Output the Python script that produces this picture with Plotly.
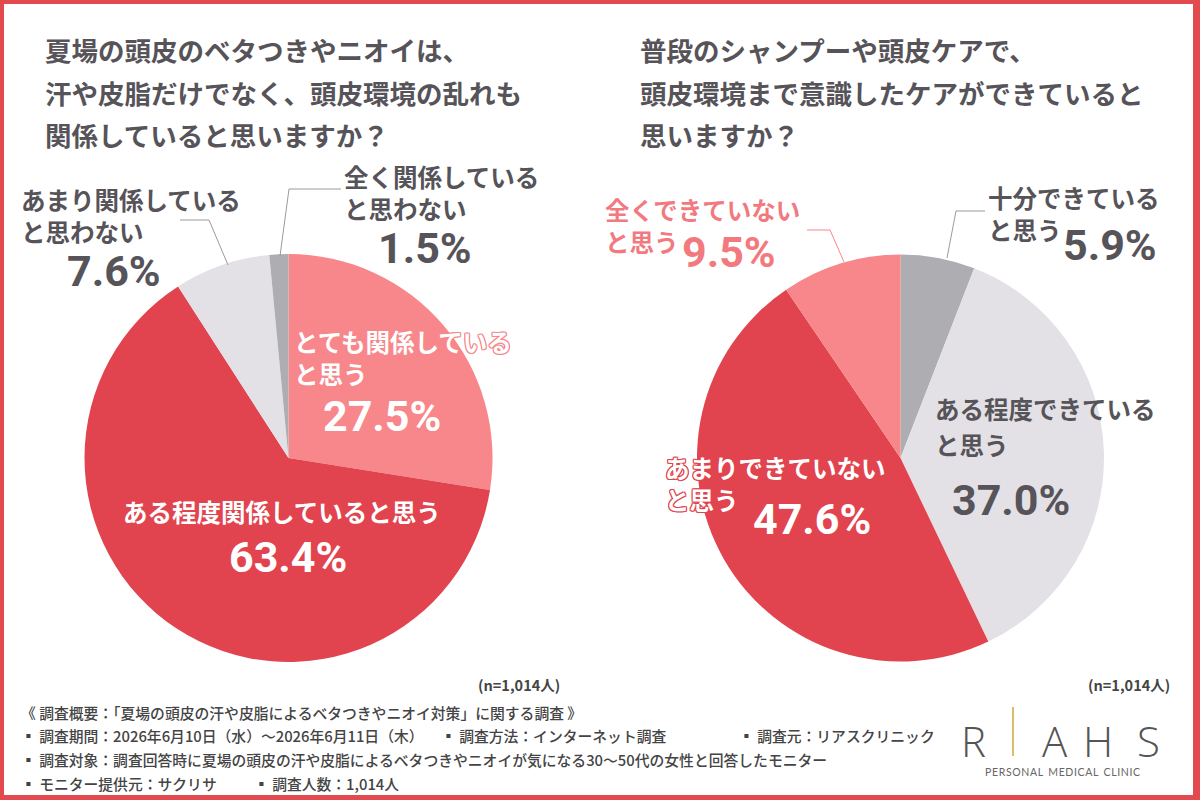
import plotly.graph_objects as go

W, H = 1200, 800

# ---------------- data ----------------
left_labels = ["とても関係していると思う", "ある程度関係していると思う", "あまり関係していると思わない", "全く関係していると思わない"]
left_values = [27.5, 63.4, 7.6, 1.5]
right_labels = ["十分できていると思う", "ある程度できていると思う", "あまりできていないと思う", "全くできていないと思う"]
right_values = [5.9, 37.0, 47.6, 9.5]

left_title = ["夏場の頭皮のベタつきやニオイは、", "汗や皮脂だけでなく、頭皮環境の乱れも", "関係していると思いますか？"]
right_title = ["普段のシャンプーや頭皮ケアで、", "頭皮環境まで意識したケアができていると", "思いますか？"]
n_label = "(n=1,014人)"

footer = [
    [(20, "《 調査概要：「夏場の頭皮の汗や皮脂によるベタつきやニオイ対策」に関する調査 》")],
    [(20, "▪ 調査期間：2026年6月10日（水）～2026年6月11日（木）"), (440, "▪ 調査方法：インターネット調査"), (738, "▪ 調査元：リアスクリニック")],
    [(20, "▪ 調査対象：調査回答時に夏場の頭皮の汗や皮脂によるベタつきやニオイが気になる30～50代の女性と回答したモニター")],
    [(20, "▪ モニター提供元：サクリサ"), (253, "▪ 調査人数：1,014人")],
]

# ---------------- styles ----------------
SALMON = "#F7878A"
RED = "#E1444E"
LIGHT = "#E3E1E5"
GRAY = "#ADADB2"
TXT = "#565359"
SALMON_TXT = "#F27A7F"
BORDER = "#E34A50"
JP = "Noto Sans CJK JP"
NUM = "Roboto, Noto Sans CJK JP"

left_colors = [SALMON, RED, LIGHT, GRAY]
right_colors = [GRAY, LIGHT, RED, SALMON]


def px(x):
    return x / W


def py(y):
    return 1 - y / H


fig = go.Figure()
fig.add_trace(go.Pie(
    labels=left_labels, values=left_values, sort=False, direction="clockwise", rotation=0,
    marker=dict(colors=left_colors, line=dict(color="white", width=0)),
    textinfo="none", hoverinfo="label+percent", showlegend=False,
    domain=dict(x=[px(84), px(493)], y=[py(662), py(254)]),
))
fig.add_trace(go.Pie(
    labels=right_labels, values=right_values, sort=False, direction="clockwise", rotation=0,
    marker=dict(colors=right_colors, line=dict(color="white", width=0)),
    textinfo="none", hoverinfo="label+percent", showlegend=False,
    domain=dict(x=[px(697), px(1104)], y=[py(662), py(254)]),
))

ann = []


def text(x, y, s, size, color=TXT, anchor="left", family=JP, weight=700, shadow=None):
    f = dict(family=family, size=size, color=color, weight=weight)
    if shadow:
        f["shadow"] = shadow
    ann.append(dict(x=px(x), y=py(y), xref="paper", yref="paper", text=s, showarrow=False,
                    xanchor=anchor, yanchor="middle", align=anchor if anchor != "center" else "center",
                    borderpad=0, font=f))


def outline(c):
    return f"-1px -1px 0 {c}, 1px -1px 0 {c}, -1px 1px 0 {c}, 1px 1px 0 {c}, 0 1px 0 {c}, 0 -1px 0 {c}, 1px 0 0 {c}, -1px 0 0 {c}"


def pct(v):
    return f"{v:.1f}%"


TS = 26.5   # title size
LS = 24.5   # label size
PS = 43     # percentage size

# titles
for i, line in enumerate(left_title):
    text(44, 49 + i * 43, line, TS)
for i, line in enumerate(right_title):
    text(639, 49 + i * 43, line, TS)

# left pie labels
text(293, 357, "とても関係している<br>と思う", LS, "white", shadow=outline(SALMON))
text(382, 416, pct(left_values[0]), PS, "white", "center", NUM)
text(282, 511, "ある程度関係していると思う", LS, "white", "center")
text(288, 557, pct(left_values[1]), PS, "white", "center", NUM)
text(20, 215, "あまり関係している<br>と思わない", LS)
text(114, 271, pct(left_values[2]), PS, TXT, "center", NUM)
text(343, 193, "全く関係している<br>と思わない", LS)
text(425, 248, pct(left_values[3]), PS, TXT, "center", NUM)

# right pie labels
text(604, 226, "全くできていない<br>と思う", LS, SALMON_TXT)
text(729, 252, pct(right_values[3]), PS, SALMON_TXT, "center", NUM)
text(987, 213, "十分できている<br>と思う", LS)
text(1110, 245, pct(right_values[0]), PS, TXT, "center", NUM)
text(934, 408, "ある程度できている", LS)
text(934, 444, "と思う", LS)
text(1011, 500, pct(right_values[1]), PS, TXT, "center", NUM)
text(664, 483, "あまりできていない<br>と思う", LS, "white", shadow=outline(RED))
text(812, 519, pct(right_values[2]), PS, "white", "center", NUM)

# n labels
text(561, 684, n_label, 14.5, "#444", "right")
text(1171, 684, n_label, 14.5, "#444", "right")

# footer
for i, row in enumerate(footer):
    for x, s in row:
        text(x, 712 + i * 23.7, s, 14.8, "#444", weight=500)

# logo
for x, ch in [(973, "R"), (1055, "A"), (1098, "H"), (1148, "S")]:
    text(x, 740, ch, 42, "#555", "center", "Open Sans", 300)
text(1062, 772, "P E R S O N A L&nbsp;&nbsp;M E D I C A L&nbsp;&nbsp;C L I N I C".replace(" ", "&#8202;"), 10.5, "#666", "center", "Lato", 400)

shapes = [
    dict(type="rect", xref="paper", yref="paper", x0=px(4), x1=px(1193), y0=py(795), y1=py(4),
         fillcolor="white", line=dict(width=0), layer="below"),
    dict(type="line", xref="paper", yref="paper", x0=px(1013), x1=px(1013), y0=py(707), y1=py(756),
         line=dict(color="#D9BD6A", width=2)),
]


def leader(pts, color):
    for (x0, y0), (x1, y1) in zip(pts[:-1], pts[1:]):
        shapes.append(dict(type="line", xref="paper", yref="paper", x0=px(x0), y0=py(y0), x1=px(x1), y1=py(y1),
                           line=dict(color=color, width=1)))


leader([(341, 189), (289, 189), (280, 256)], "#9A9A9E")
leader([(180, 220), (209, 220), (228, 265)], "#9A9A9E")
leader([(807, 230), (830, 230), (844, 262)], SALMON)
leader([(985, 211), (956, 211), (947, 258)], "#9A9A9E")

fig.update_layout(
    width=W, height=H, margin=dict(l=0, r=0, t=0, b=0),
    paper_bgcolor=BORDER, plot_bgcolor="white",
    annotations=ann, shapes=shapes, showlegend=False,
)

fig.write_html("out.html")
